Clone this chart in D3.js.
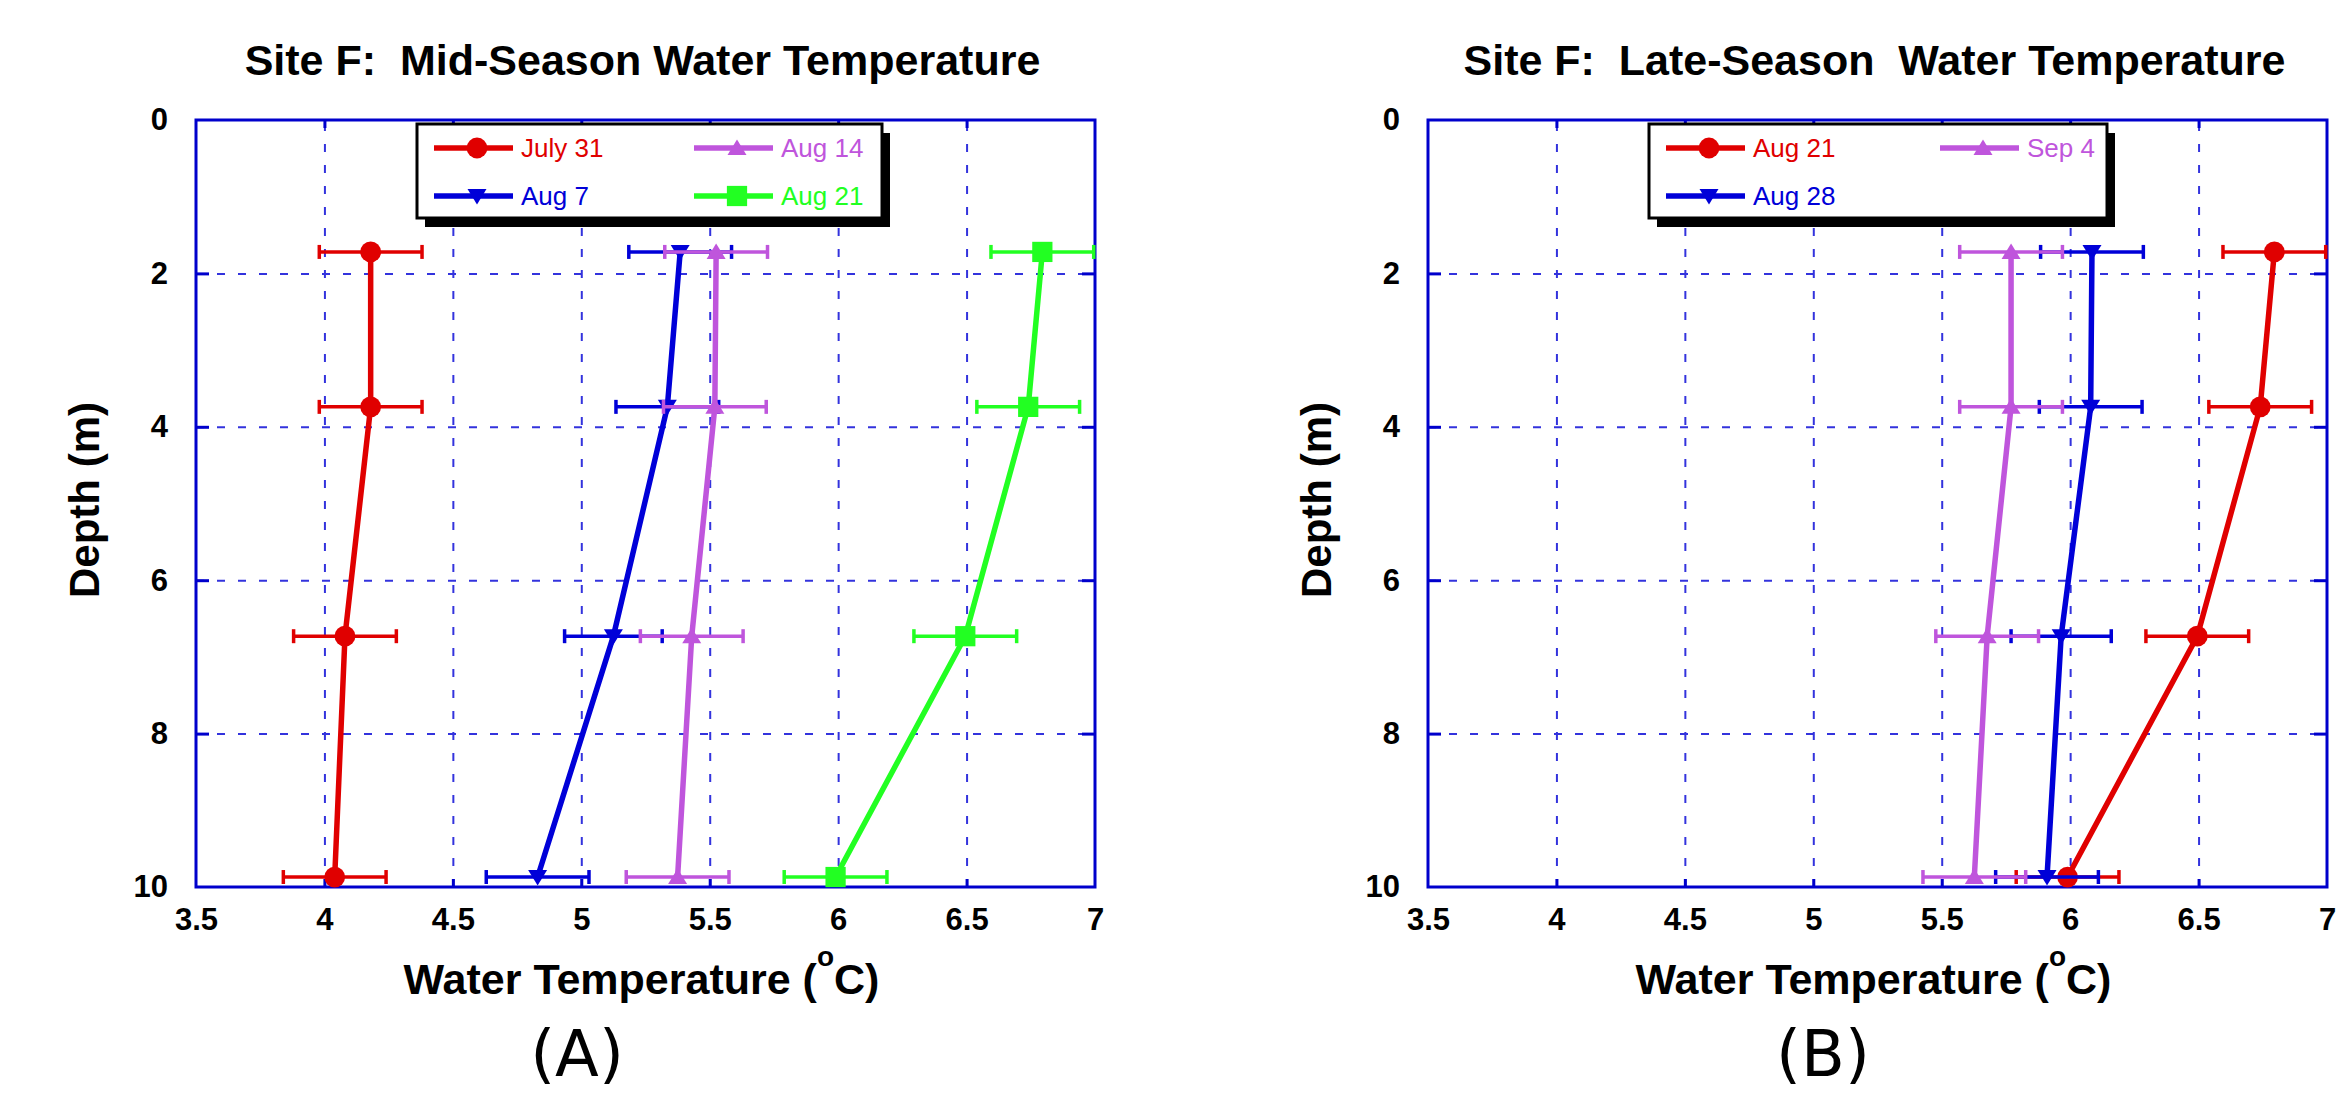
<!DOCTYPE html>
<html>
<head>
<meta charset="utf-8">
<script src="https://cdn.jsdelivr.net/npm/d3@7"></script>
<style>
body { margin: 0; background: #fff; }
svg { display: block; font-family: "Liberation Sans", Arial, sans-serif; }
text { white-space: pre; }
</style>
</head>
<body>
<svg id="chart" width="2342" height="1094"></svg>
<script>
/* global d3 */

//	BEGIN data

var depths = [1.72, 3.74, 6.73, 9.87];
var xTicks = [3.5, 4, 4.5, 5, 5.5, 6, 6.5, 7];
var xGrid = [4, 4.5, 5, 5.5, 6, 6.5];
var yTicks = [0, 2, 4, 6, 8, 10];
var yGrid = [2, 4, 6, 8];

// mid-season profiles (panel A)
var july31 = [4.18, 4.18, 4.08, 4.04];
var july31Err = [0.2, 0.2, 0.2, 0.2];
var aug7 = [5.385, 5.335, 5.125, 4.83];
var aug7Err = [0.2, 0.2, 0.19, 0.2];
var aug14 = [5.525, 5.52, 5.43, 5.375];
var aug14Err = [0.2, 0.2, 0.2, 0.2];
var aug21 = [6.795, 6.74, 6.495, 5.99];
var aug21Err = [0.2, 0.2, 0.2, 0.2];

// late-season profiles (panel B)
var aug28 = [6.085, 6.08, 5.965, 5.91];
var aug28Err = [0.2, 0.2, 0.195, 0.2];
var sep4 = [5.77, 5.77, 5.677, 5.627];
var sep4Err = [0.2, 0.2, 0.2, 0.2];

//	END data

var RED = "#e00000", BLUE = "#0000d8", PURPLE = "#bf55dc", GREEN = "#22ff22";
var AXIS = "#0000cc", GRID = "#3333dd";

var panels = [
	{
		left: 196, title: "Site F:  Mid-Season Water Temperature", tag: "(A)", tagX: 577,
		legendW: 465, col2: 277,
		series: [
			{ name: "July 31", temp: july31, err: july31Err, color: RED, shape: "circle", row: 0, col: 0 },
			{ name: "Aug 7", temp: aug7, err: aug7Err, color: BLUE, shape: "down", row: 1, col: 0 },
			{ name: "Aug 14", temp: aug14, err: aug14Err, color: PURPLE, shape: "up", row: 0, col: 1 },
			{ name: "Aug 21", temp: aug21, err: aug21Err, color: GREEN, shape: "square", row: 1, col: 1 }
		]
	},
	{
		left: 1428, title: "Site F:  Late-Season  Water Temperature", tag: "(B)", tagX: 1823,
		legendW: 458, col2: 291,
		series: [
			{ name: "Aug 21", temp: aug21, err: aug21Err, color: RED, shape: "circle", row: 0, col: 0 },
			{ name: "Aug 28", temp: aug28, err: aug28Err, color: BLUE, shape: "down", row: 1, col: 0 },
			{ name: "Sep 4", temp: sep4, err: sep4Err, color: PURPLE, shape: "up", row: 0, col: 1 }
		]
	}
];

var plotTop = 120, plotBottom = 887, plotW = 899;
var svg = d3.select("#chart");

function markerPath(shape) {
	if (shape === "circle") return d3.symbol(d3.symbolCircle, 340)();
	if (shape === "square") return d3.symbol(d3.symbolSquare, 410)();
	if (shape === "up") return "M0,-8.5L9.5,7L-9.5,7Z";
	return "M0,8.5L9.5,-7L-9.5,-7Z";
}

panels.forEach(function(p) {
	var x = d3.scaleLinear().domain([3.5, 7]).range([p.left, p.left + plotW]);
	var y = d3.scaleLinear().domain([0, 10]).range([plotTop, plotBottom]);
	var g = svg.append("g");

	// dashed grid
	g.append("g")
		.attr("transform", "translate(0," + plotBottom + ")")
		.call(d3.axisBottom(x).tickValues(xGrid).tickSize(-(plotBottom - plotTop)).tickFormat(""))
		.call(function(s) { s.select(".domain").remove(); })
		.selectAll("line").attr("stroke", GRID).attr("stroke-width", 2).attr("stroke-dasharray", "8,13");
	g.append("g")
		.attr("transform", "translate(" + p.left + ",0)")
		.call(d3.axisLeft(y).tickValues(yGrid).tickSize(-plotW).tickFormat(""))
		.call(function(s) { s.select(".domain").remove(); })
		.selectAll("line").attr("stroke", GRID).attr("stroke-width", 2).attr("stroke-dasharray", "8,13");

	// inner tick marks on all four sides
	var tickAxes = [
		[d3.axisBottom(x).tickValues(xGrid).tickSize(-8), "translate(0," + plotBottom + ")"],
		[d3.axisTop(x).tickValues(xGrid).tickSize(-8), "translate(0," + plotTop + ")"],
		[d3.axisLeft(y).tickValues(yGrid).tickSize(-13), "translate(" + p.left + ",0)"],
		[d3.axisRight(y).tickValues(yGrid).tickSize(-13), "translate(" + (p.left + plotW) + ",0)"]
	];
	tickAxes.forEach(function(a) {
		g.append("g").attr("transform", a[1])
			.call(a[0].tickFormat(""))
			.call(function(s) { s.select(".domain").remove(); })
			.selectAll("line").attr("stroke", AXIS).attr("stroke-width", 3);
	});

	// frame
	g.append("rect")
		.attr("x", p.left).attr("y", plotTop)
		.attr("width", plotW).attr("height", plotBottom - plotTop)
		.attr("fill", "none").attr("stroke", AXIS).attr("stroke-width", 3);

	// tick labels
	g.append("g")
		.attr("transform", "translate(0," + plotBottom + ")")
		.call(d3.axisBottom(x).tickValues(xTicks).tickSize(0).tickPadding(21).tickFormat(d3.format("")))
		.call(function(s) { s.select(".domain").remove(); })
		.selectAll("text").attr("font-size", 31).attr("font-weight", "bold")
		.attr("font-family", "Liberation Sans, Arial, sans-serif").attr("fill", "#000");
	g.append("g")
		.attr("transform", "translate(" + p.left + ",0)")
		.call(d3.axisLeft(y).tickValues(yTicks).tickSize(0).tickPadding(28))
		.call(function(s) { s.select(".domain").remove(); })
		.selectAll("text").attr("font-size", 31).attr("font-weight", "bold")
		.attr("font-family", "Liberation Sans, Arial, sans-serif").attr("fill", "#000");

	// series
	p.series.forEach(function(s) {
		var pts = depths.map(function(d, i) { return { d: d, t: s.temp[i], e: s.err[i] }; });
		var sg = g.append("g");
		var eb = sg.selectAll(".err").data(pts).enter().append("g")
			.attr("stroke", s.color).attr("stroke-width", 3.5);
		eb.append("line")
			.attr("x1", function(d) { return x(d.t - d.e); })
			.attr("x2", function(d) { return x(d.t + d.e); })
			.attr("y1", function(d) { return y(d.d); })
			.attr("y2", function(d) { return y(d.d); });
		[-1, 1].forEach(function(k) {
			eb.append("line")
				.attr("x1", function(d) { return x(d.t + k * d.e); })
				.attr("x2", function(d) { return x(d.t + k * d.e); })
				.attr("y1", function(d) { return y(d.d) - 7; })
				.attr("y2", function(d) { return y(d.d) + 7; });
		});
		sg.append("path")
			.datum(pts)
			.attr("fill", "none").attr("stroke", s.color).attr("stroke-width", 5.5)
			.attr("d", d3.line().x(function(d) { return x(d.t); }).y(function(d) { return y(d.d); }));
		sg.selectAll(".mk").data(pts).enter().append("path")
			.attr("transform", function(d) { return "translate(" + x(d.t) + "," + y(d.d) + ")"; })
			.attr("d", markerPath(s.shape))
			.attr("fill", s.color);
	});

	// legend with drop shadow
	var lx = p.left + 221, ly = 124, lh = 94;
	g.append("rect").attr("x", lx + 8).attr("y", ly + 9).attr("width", p.legendW).attr("height", lh).attr("fill", "#000");
	g.append("rect").attr("x", lx).attr("y", ly).attr("width", p.legendW).attr("height", lh)
		.attr("fill", "#fff").attr("stroke", "#000").attr("stroke-width", 3);
	p.series.forEach(function(s) {
		var ex = lx + (s.col ? p.col2 : 17), ey = ly + 24 + s.row * 48;
		g.append("line").attr("x1", ex).attr("x2", ex + 79).attr("y1", ey).attr("y2", ey)
			.attr("stroke", s.color).attr("stroke-width", 5.5);
		g.append("path").attr("transform", "translate(" + (ex + 43) + "," + ey + ")")
			.attr("d", markerPath(s.shape)).attr("fill", s.color);
		g.append("text").attr("x", ex + 87).attr("y", ey + 9)
			.attr("font-size", 26).attr("fill", s.color).text(s.name);
	});

	// titles
	var cx = p.left + plotW / 2;
	g.append("text").attr("x", cx - 3).attr("y", 75).attr("text-anchor", "middle")
		.attr("font-size", 43).attr("font-weight", "bold").text(p.title);
	var xt = g.append("text").attr("x", cx - 4).attr("y", 994).attr("text-anchor", "middle")
		.attr("font-size", 43).attr("font-weight", "bold");
	xt.append("tspan").text("Water Temperature (");
	xt.append("tspan").attr("font-size", 28).attr("dy", -28).text("o");
	xt.append("tspan").attr("dy", 28).text("C)");
	g.append("text").attr("transform", "translate(" + (p.left - 97) + ",500) rotate(-90)")
		.attr("text-anchor", "middle").attr("font-size", 42).attr("font-weight", "bold").text("Depth (m)");
	g.append("text").attr("x", p.tagX).attr("y", 1076).attr("text-anchor", "middle")
		.attr("font-family", "DejaVu Sans, sans-serif").attr("font-size", 64).text(p.tag);
});
</script>
</body>
</html>
